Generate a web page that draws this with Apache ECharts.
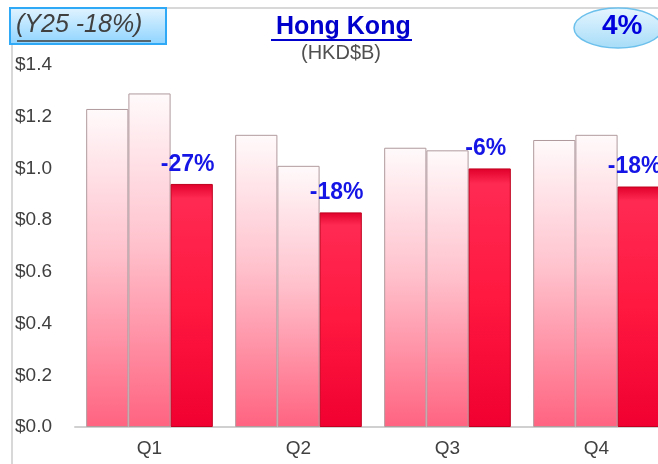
<!DOCTYPE html>
<html>
<head>
<meta charset="utf-8">
<script src="https://cdn.jsdelivr.net/npm/echarts@6/dist/echarts.min.js"></script>
<style>
  html, body { margin: 0; padding: 0; background: #fff; }
  #chart { width: 658px; height: 464px; }
</style>
</head>
<body>
<div id="chart"></div>
<script>
const quarters = ['Q1', 'Q2', 'Q3', 'Q4'];
const yearA = [1.23, 1.13, 1.08, 1.11];
const yearB = [1.29, 1.01, 1.07, 1.13];
const yearC = [0.94, 0.83, 1.00, 0.93];
const changeLabels = ['-27%', '-18%', '-6%', '-18%'];

const font = '"Liberation Sans", Arial, sans-serif';

const lightBar = {
    color: new echarts.graphic.LinearGradient(0, 0, 0, 1, [
        { offset: 0, color: '#fffafb' },
        { offset: 0.45, color: '#ffc2cd' },
        { offset: 1, color: '#ff6380' }
    ]),
    borderColor: '#b09a9e',
    borderWidth: 1
};

const redBar = {
    color: new echarts.graphic.LinearGradient(0, 0, 0, 1, [
        { offset: 0, color: '#e0002a' },
        { offset: 0.06, color: '#ff2a52' },
        { offset: 0.5, color: '#ff1840' },
        { offset: 1, color: '#f00030' }
    ]),
    borderColor: '#c0001e',
    borderWidth: 1
};

const chart = echarts.init(document.getElementById('chart'));

chart.setOption({
    animation: false,
    textStyle: { fontFamily: font },
    grid: { left: 75, top: 65, right: -13, bottom: 37, outerBoundsMode: 'none' },
    xAxis: {
        type: 'category',
        data: quarters,
        axisLine: { lineStyle: { color: '#d0d0d0', width: 2 } },
        axisTick: { show: false },
        axisLabel: { color: '#404040', fontSize: 19, margin: 12 }
    },
    yAxis: {
        type: 'value',
        min: 0,
        max: 1.4,
        interval: 0.2,
        splitLine: { show: false },
        axisLine: { show: false },
        axisLabel: {
            color: '#404040',
            fontSize: 19,
            align: 'left',
            margin: 60,
            formatter: v => '$' + v.toFixed(1)
        }
    },
    series: [
        { type: 'bar', data: yearA, itemStyle: lightBar, barGap: '0%', barCategoryGap: '15%' },
        { type: 'bar', data: yearB, itemStyle: lightBar, barGap: '0%', barCategoryGap: '15%' },
        {
            type: 'bar', data: yearC, itemStyle: redBar, barGap: '0%', barCategoryGap: '15%',
            label: {
                show: true,
                position: 'top',
                distance: 8,
                offset: [-4, 0],
                color: '#1515e6',
                fontSize: 23,
                fontWeight: 'bold',
                formatter: p => changeLabels[p.dataIndex]
            }
        }
    ],
    graphic: [
        // frame lines
        { type: 'line', shape: { x1: 12, y1: 8, x2: 658, y2: 8 }, style: { stroke: '#d8d8d8', lineWidth: 2 } },
        { type: 'line', shape: { x1: 12, y1: 8, x2: 12, y2: 464 }, style: { stroke: '#d8d8d8', lineWidth: 2 } },
        // top-left box
        {
            type: 'rect', shape: { x: 10, y: 8, width: 156, height: 36 },
            style: {
                fill: new echarts.graphic.LinearGradient(0, 0, 0, 1, [
                    { offset: 0, color: '#e2f4ff' },
                    { offset: 1, color: '#8dd3ff' }
                ]),
                stroke: '#2fa8f5', lineWidth: 2
            }
        },
        {
            type: 'text', left: 16, top: 13,
            style: { text: '(Y25 -18%)', fill: '#404040', font: 'italic 25px ' + font }
        },
        { type: 'line', shape: { x1: 17, y1: 41, x2: 151, y2: 41 }, style: { stroke: '#404040', lineWidth: 1.5 } },
        // title
        {
            type: 'text', left: 276, top: 15,
            style: { text: 'Hong Kong', fill: '#0000cc', font: 'bold 25px ' + font }
        },
        { type: 'line', shape: { x1: 271, y1: 40, x2: 412, y2: 40 }, style: { stroke: '#0000cc', lineWidth: 2 } },
        {
            type: 'text', left: 301, top: 43,
            style: { text: '(HKD$B)', fill: '#505050', font: '20px ' + font }
        },
        // top-right ellipse
        {
            type: 'ellipse', shape: { cx: 618, cy: 28, rx: 44, ry: 20 },
            style: {
                fill: new echarts.graphic.LinearGradient(0, 0, 0, 1, [
                    { offset: 0, color: '#e6f6ff' },
                    { offset: 1, color: '#a6dcf8' }
                ]),
                stroke: '#6cc0ec', lineWidth: 1.5
            }
        },
        {
            type: 'text', left: 602, top: 12,
            style: { text: '4%', fill: '#0000dd', font: 'bold 28px ' + font }
        }
    ]
});
</script>
</body>
</html>
